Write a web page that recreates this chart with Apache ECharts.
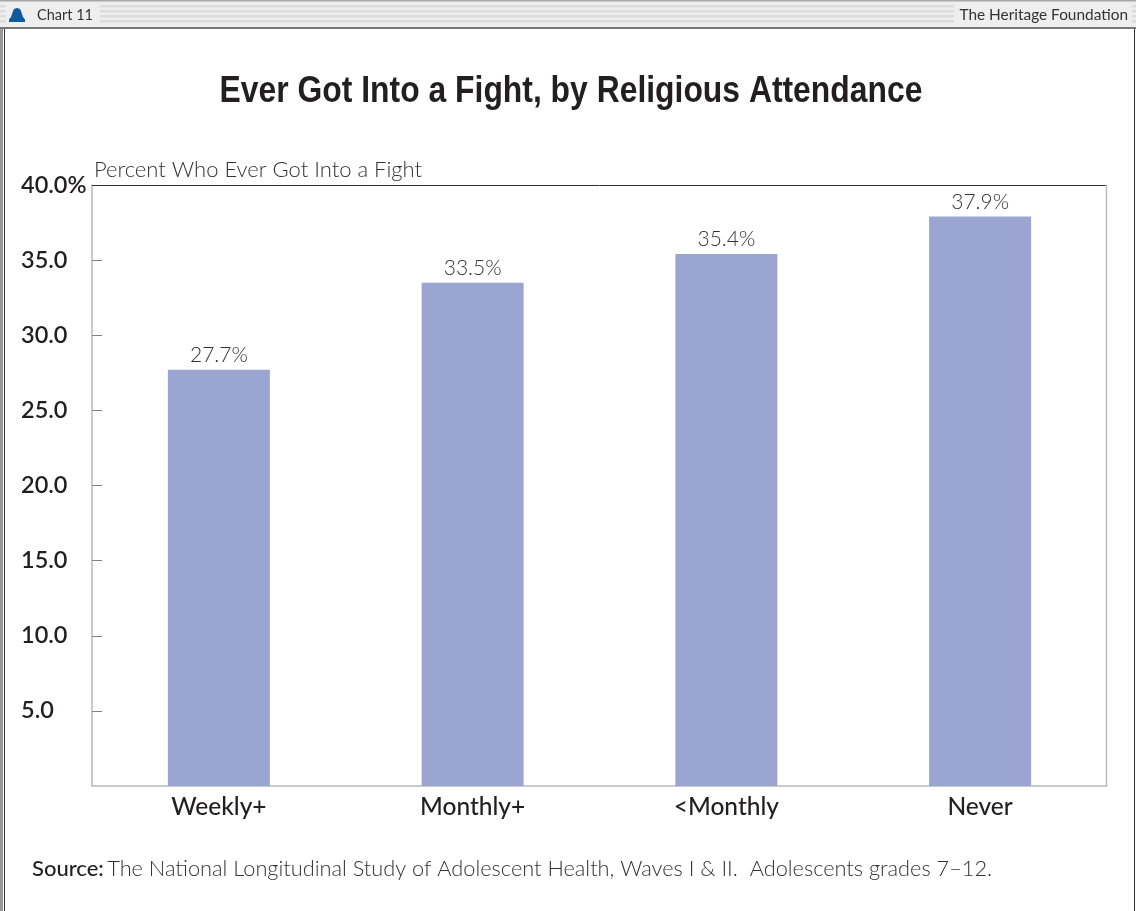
<!DOCTYPE html>
<html><head><meta charset="utf-8">
<style>html,body{margin:0;padding:0;background:#fff}#c{width:1136px;height:911px}</style>
<script src="https://cdn.jsdelivr.net/npm/echarts@6/dist/echarts.min.js"></script>
</head><body><div id="c"></div>
<script>
const categories = ['Weekly+', 'Monthly+', '<Monthly', 'Never'];
const values = [27.7, 33.5, 35.4, 37.9];
const tickLabels = ['', '5.0', '10.0', '15.0', '20.0', '25.0', '30.0', '35.0', '40.0%'];
const tickMarks = [5, 10, 15, 20, 25, 30, 35];
const titleText = 'Ever Got Into a Fight, by Religious Attendance';
const axisCaption = 'Percent Who Ever Got Into a Fight';
const sourceText = 'The National Longitudinal Study of Adolescent Health, Waves I & II.  Adolescents grades 7–12.';

const FONT = 'Lato, "Open Sans", sans-serif';
const chart = echarts.init(document.getElementById('c'), null, {renderer: 'canvas'});
const stripes = [];
for (const y of [5, 10, 15, 20]) {
  stripes.push({type: 'rect', z: 1, shape: {x: 0, y: y, width: 1136, height: 2.5}, style: {fill: '#dcdcdc'}});
}
chart.setOption({
  animation: false,
  backgroundColor: '#fff',
  grid: {left: 92, right: 29, top: 185, bottom: 125, containLabel: false, show: false},
  xAxis: {
    type: 'category', data: categories,
    axisLine: {show: true, lineStyle: {color: '#b4bac0', width: 1.5}},
    axisTick: {show: false},
    axisLabel: {fontFamily: FONT, fontSize: 24.5, fontWeight: 500, color: '#231f20', margin: 9}
  },
  yAxis: {
    type: 'value', min: 0, max: 40, interval: 5,
    splitLine: {show: false},
    axisLine: {show: true, lineStyle: {color: '#b4bac0', width: 1.5}},
    axisTick: {show: true, inside: true, length: 10, customValues: tickMarks, lineStyle: {color: '#808285', width: 1}},
    axisLabel: {
      fontFamily: FONT, fontSize: 23.5, fontWeight: 600, color: '#231f20', align: 'left', margin: 71,
      padding: [0, 0, 2, 0],
      formatter: (v) => tickLabels[Math.round(v / 5)]
    }
  },
  series: [{
    type: 'bar', data: values, barWidth: 102,
    itemStyle: {color: '#9aa5d2'},
    label: {
      show: true, position: 'top', distance: 4,
      fontFamily: FONT, fontWeight: 300, fontSize: 21, color: '#333335',
      formatter: (p) => p.value.toFixed(1) + '%'
    }
  }],
  graphic: [
    {type: 'rect', z: 0, shape: {x: 0, y: 0, width: 1136, height: 27}, style: {fill: '#eeeeee'}},
    ...stripes,
    {type: 'rect', z: 1, shape: {x: 0, y: 0, width: 1136, height: 1.5}, style: {fill: '#a8a8a8'}},
    {type: 'rect', z: 1, shape: {x: 0, y: 27, width: 1136, height: 2}, style: {fill: '#777'}},
    {type: 'rect', z: 2, shape: {x: 6, y: 3, width: 94, height: 21}, style: {fill: '#eeeeee'}},
    {type: 'rect', z: 2, shape: {x: 954, y: 3, width: 178, height: 21}, style: {fill: '#eeeeee'}},
    {type: 'polygon', z: 3, shape: {points: [[9,22],[9,19.5],[11,17],[12,14],[13,11],[14,9],[17,8],[20,9],[21,11],[22,14],[23,17],[25,19.5],[25,22]]}, style: {fill: '#0f5a9e'}},
    {type: 'text', z: 3, style: {x: 37, y: 15, text: 'Chart 11', fontFamily: FONT, fontSize: 14.5, fill: '#333', verticalAlign: 'middle'}},
    {type: 'text', z: 3, style: {x: 1128, y: 15, text: 'The Heritage Foundation', fontFamily: FONT, fontSize: 15.4, fill: '#333', align: 'right', verticalAlign: 'middle'}},
    {type: 'line', z: 1, shape: {x1: 4.5, y1: 29, x2: 4.5, y2: 911}, style: {stroke: '#333', lineWidth: 1}},
    {type: 'line', z: 1, shape: {x1: 1.5, y1: 29, x2: 1.5, y2: 911}, style: {stroke: '#999', lineWidth: 3}},
    {type: 'line', z: 1, shape: {x1: 1134.5, y1: 29, x2: 1134.5, y2: 911}, style: {stroke: '#333', lineWidth: 1}},
    {type: 'line', z: 1, shape: {x1: 92, y1: 185.5, x2: 1107, y2: 185.5}, style: {stroke: '#333', lineWidth: 1}},
    {type: 'line', z: 1, shape: {x1: 1106.5, y1: 185, x2: 1106.5, y2: 786}, style: {stroke: '#b4bac0', lineWidth: 1.5}},
    {type: 'text', z: 3, x: 571, y: 92, scaleX: 0.885, style: {
      x: 0, y: 0, text: titleText, align: 'center', verticalAlign: 'middle',
      fontFamily: '"Liberation Sans", sans-serif', fontWeight: 'bold', fontSize: 36, fill: '#231f20'
    }},
    {type: 'text', z: 3, style: {x: 94, y: 170, text: axisCaption, fontFamily: FONT, fontWeight: 300, fontSize: 22, fill: '#333335', verticalAlign: 'middle'}},
    {type: 'text', z: 3, style: {
      x: 32, y: 869, verticalAlign: 'middle',
      text: '{b|Source:} {n|' + sourceText + '}',
      rich: {
        b: {fontFamily: FONT, fontSize: 22, fontWeight: 500, fill: '#231f20'},
        n: {fontFamily: FONT, fontSize: 21.75, fontWeight: 300, fill: '#333335'}
      }
    }}
  ]
});
</script></body></html>
